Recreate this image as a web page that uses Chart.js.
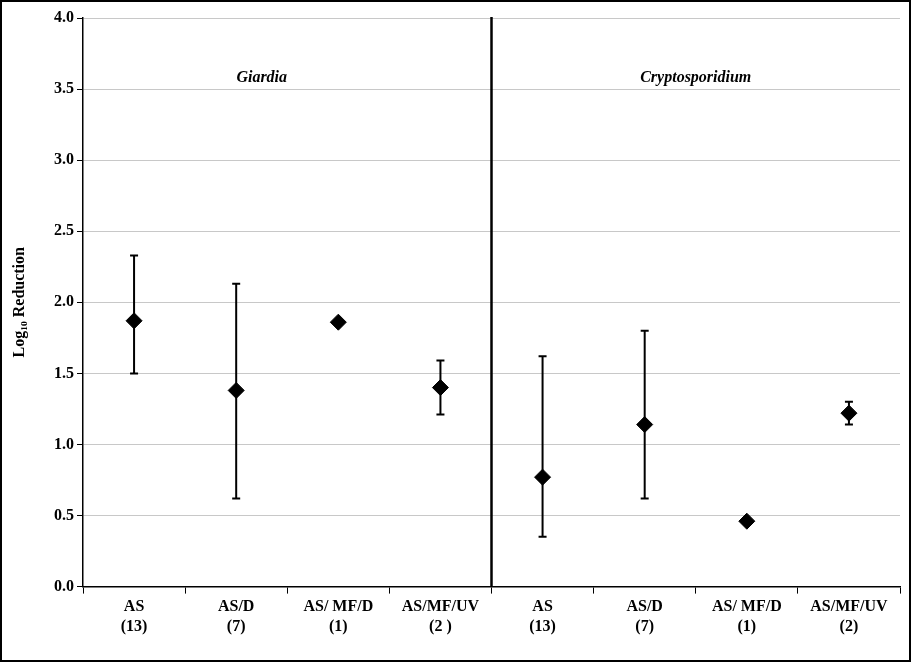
<!DOCTYPE html>
<html><head><meta charset="utf-8">
<script src="https://cdn.jsdelivr.net/npm/chart.js@4/dist/chart.umd.min.js"></script>
<style>
html,body{margin:0;padding:0;background:#fff}
#wrap{position:absolute;left:0;top:0;width:907px;height:658px;border:2px solid #000}
</style></head><body>
<div id="wrap"><canvas id="c" width="907" height="658"></canvas></div>
<script>
const categories = [['AS','(13)'],['AS/D','(7)'],['AS/ MF/D','(1)'],['AS/MF/UV','(2 )'],
                    ['AS','(13)'],['AS/D','(7)'],['AS/ MF/D','(1)'],['AS/MF/UV','(2)']];
const meanValues = [1.87, 1.38, 1.86, 1.40, 0.77, 1.14, 0.46, 1.22];
const upperValues = [2.33, 2.13, null, 1.59, 1.62, 1.80, null, 1.30];
const lowerValues = [1.50, 0.62, null, 1.21, 0.35, 0.62, null, 1.14];
const groupLabels = ['Giardia', 'Cryptosporidium'];

const extras = {
  id: 'extras',
  afterDatasetsDraw(chart) {
    const c = chart.ctx, x = chart.scales.x, y = chart.scales.y, a = chart.chartArea;
    c.save();
    c.strokeStyle = '#000'; c.lineWidth = 2;
    meanValues.forEach((v, i) => {
      if (upperValues[i] == null) return;
      const px = x.getPixelForValue(i);
      const t = y.getPixelForValue(upperValues[i]), b = y.getPixelForValue(lowerValues[i]);
      c.beginPath();
      c.moveTo(px, t); c.lineTo(px, b);
      c.moveTo(px - 4, t); c.lineTo(px + 4, t);
      c.moveTo(px - 4, b); c.lineTo(px + 4, b);
      c.stroke();
    });
    // divider
    const dx = (x.getPixelForValue(3) + x.getPixelForValue(4)) / 2;
    c.lineWidth = 2.5;
    c.beginPath(); c.moveTo(dx, a.top - 1); c.lineTo(dx, a.bottom); c.stroke();
    c.fillStyle = '#000';
    c.font = 'italic bold 16px "Liberation Serif"';
    c.textAlign = 'center';
    c.fillText(groupLabels[0], x.getPixelForValue(1.25), y.getPixelForValue(3.55));
    c.fillText(groupLabels[1], x.getPixelForValue(5.5), y.getPixelForValue(3.55));
    c.restore();
  }
};

new Chart(document.getElementById('c'), {
  type: 'line',
  data: {
    labels: categories,
    datasets: [{
      data: meanValues,
      showLine: false,
      pointStyle: 'rectRot',
      pointRadius: 8,
      pointHoverRadius: 8,
      backgroundColor: '#000',
      borderColor: '#000'
    }]
  },
  options: {
    responsive: false,
    animation: false,
    layout: { padding: { top: 16, right: 8, left: 4, bottom: 20 } },
    plugins: { legend: { display: false }, tooltip: { enabled: false } },
    scales: {
      x: {
        offset: true,
        grid: { offset: true, drawOnChartArea: false, color: '#000', tickLength: 7, tickWidth: 1 },
        border: { color: '#000', width: 1.5 },
        ticks: { color: '#000', font: { family: 'Liberation Serif', size: 16, weight: 'bold' }, maxRotation: 0, padding: 4 }
      },
      y: {
        min: 0, max: 4,
        afterFit(s) { s.width = 77; },
        grid: { color: '#c8c8c8', tickLength: 6, tickColor: '#000' },
        border: { color: '#000', width: 1.5 },
        ticks: { stepSize: 0.5, color: '#000', callback: v => v.toFixed(1), font: { family: 'Liberation Serif', size: 16, weight: 'bold' } },
        title: { display: true, text: 'Log₁₀ Reduction', color: '#000', font: { family: 'Liberation Serif', size: 16, weight: 'bold' } }
      }
    }
  },
  plugins: [extras]
});
</script>
</body></html>
